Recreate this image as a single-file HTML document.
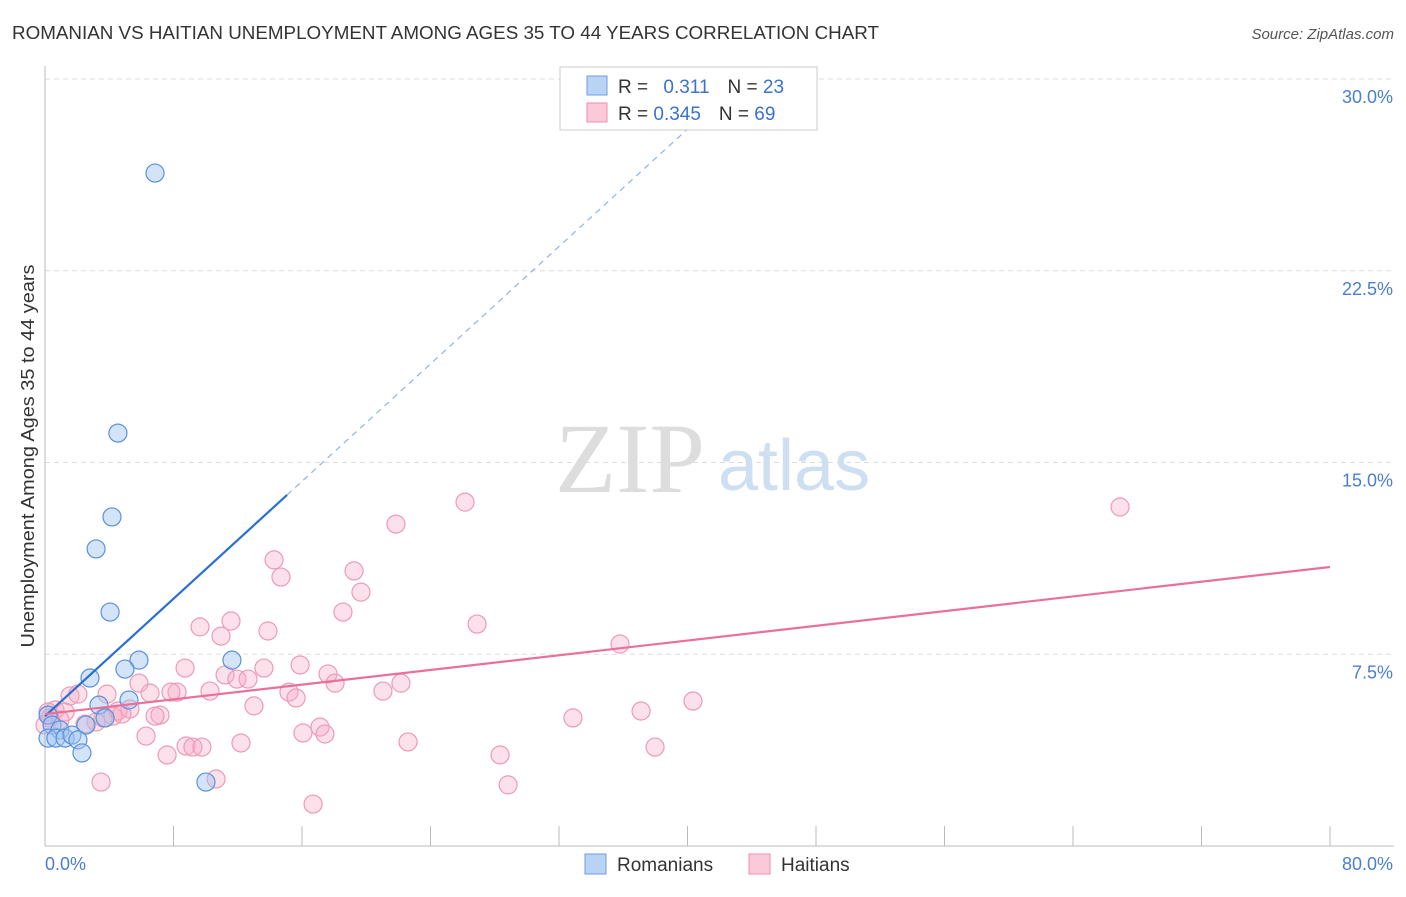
<!DOCTYPE html>
<html><head><meta charset="utf-8"><style>
body{margin:0;background:#fff;font-family:"Liberation Sans",sans-serif;}
</style></head><body>
<svg width="1406" height="892" xmlns="http://www.w3.org/2000/svg" style="font-family:'Liberation Sans',sans-serif">
<text x="12" y="39" font-size="18" fill="#333" textLength="867" lengthAdjust="spacingAndGlyphs">ROMANIAN VS HAITIAN UNEMPLOYMENT AMONG AGES 35 TO 44 YEARS CORRELATION CHART</text>
<text x="1394" y="39" font-size="15" fill="#555" font-style="italic" text-anchor="end">Source: ZipAtlas.com</text>
<g id="grid"></g>
<text x="555" y="492" font-size="100" fill="#ddd" font-family="Liberation Serif,serif">ZIP</text>
<text x="718" y="490" font-size="72" fill="#cfdff2">atlas</text>
<g id="marks"></g>
<text transform="translate(34,456) rotate(-90)" font-size="18" fill="#333" text-anchor="middle" textLength="383" lengthAdjust="spacingAndGlyphs">Unemployment Among Ages 35 to 44 years</text>
<g>
<rect x="560" y="67" width="257" height="63" fill="#fff" stroke="#ccc"/>
<rect x="587" y="76" width="20" height="19" fill="#b9d3f5" stroke="#6d9de0"/>
<rect x="587" y="103" width="20" height="19" fill="#fbc9d8" stroke="#eb8fae"/>
<text x="618" y="93" font-size="19" fill="#333">R = <tspan fill="#3a72cc" dx="10">0.311</tspan><tspan fill="#333" dx="18">N = </tspan><tspan fill="#3a72cc">23</tspan></text>
<text x="618" y="120" font-size="19" fill="#333">R = <tspan fill="#3a72cc">0.345</tspan><tspan fill="#333" dx="18">N = </tspan><tspan fill="#3a72cc">69</tspan></text>
</g>
<g>
<rect x="585" y="854" width="21" height="20" fill="#b9d3f5" stroke="#6d9de0"/>
<text x="617" y="871" font-size="19" fill="#333">Romanians</text>
<rect x="749" y="854" width="21" height="20" fill="#fbc9d8" stroke="#eb8fae"/>
<text x="781" y="871" font-size="19" fill="#333">Haitians</text>
</g>
</svg>
<script>
const xTicks=[0,80];
const yTicks=[7.5,15,22.5,30];
const romX=[6.85,4.54,4.17,3.18,4.05,5.85,4.98,11.64,2.80,5.23,3.36,0.19,3.74,0.44,0.93,2.55,0.19,0.68,1.25,1.68,2.05,2.30,10.02];
const romY=[26.32,16.15,12.87,11.62,9.15,7.27,6.92,7.27,6.57,5.71,5.51,5.12,5.01,4.73,4.54,4.73,4.22,4.22,4.22,4.34,4.15,3.64,2.50];
const haiX=[26.15,66.93,21.85,14.26,14.69,19.24,19.67,18.55,11.58,9.65,13.88,26.90,10.96,35.80,8.72,13.63,15.88,17.62,11.21,11.95,12.64,18.06,22.16,5.85,8.22,7.84,6.54,10.27,15.19,15.63,21.04,1.56,2.05,3.86,5.29,13.01,40.34,37.11,0.62,1.25,4.54,7.16,6.85,4.23,4.79,32.87,3.61,3.18,2.49,17.12,6.29,16.06,17.43,8.78,9.21,9.77,12.20,22.60,37.98,28.33,7.60,3.49,10.65,16.69,28.83,0.19,0.31,0.93,0];
const haiY=[13.45,13.26,12.59,11.19,10.52,10.76,9.93,9.15,8.80,8.57,8.41,8.68,8.21,7.90,6.96,6.96,7.08,6.73,6.69,6.53,6.53,6.37,6.37,6.37,6.02,6.02,5.98,6.06,6.02,5.79,6.06,5.87,5.94,5.94,5.36,5.48,5.67,5.28,5.32,5.24,5.28,5.12,5.08,5.08,5.16,5.01,5.01,4.85,4.77,4.65,4.30,4.42,4.38,3.91,3.87,3.87,4.03,4.07,3.87,3.56,3.56,2.50,2.62,1.64,2.39,5.24,5.01,4.93,4.73];
const romTrend=[5.08,0.574];
const haiTrend=[5.16,0.0719];
const X=v=>45+v/80*1285, Y=v=>846-v/30*767;
const NS='http://www.w3.org/2000/svg';
function mk(p,t,a){const e=document.createElementNS(NS,t);for(const k in a)e.setAttribute(k,a[k]);p.appendChild(e);return e;}
const g=document.getElementById('grid'), m=document.getElementById('marks');
yTicks.forEach(t=>{const l=mk(g,'line',{x1:45,x2:1394,y1:Y(t),y2:Y(t),stroke:'#ddd','stroke-dasharray':'5,4'});


const tx=mk(g,'text',{x:1393,y:Y(t)+24,'font-size':18,fill:'#4a7fd0','text-anchor':'end'});tx.textContent=t.toFixed(1)+'%';

});
const ax=mk(g,'line',{x1:45,x2:1394,y1:846,y2:846,stroke:'#bbb'});


const ay=mk(g,'line',{x1:45,x2:45,y1:66,y2:846,stroke:'#bbb'});


for(let i=1;i<=10;i++){const l=mk(g,'line',{x1:X(i*8),x2:X(i*8),y1:826,y2:846,stroke:'#bbb'});

}
xTicks.forEach((t,i)=>{const tx=mk(g,'text',{x:i?1393:45,y:870,'font-size':18,fill:'#4a7fd0','text-anchor':i?'end':'start'});tx.textContent=t.toFixed(1)+'%';

});
haiX.forEach((x,i)=>{const c=mk(m,'circle',{cx:X(x),cy:Y(haiY[i]),r:9,fill:'rgba(246,170,195,0.35)',stroke:'#ee9ab5','stroke-width':1.2});

});
romX.forEach((x,i)=>{const c=mk(m,'circle',{cx:X(x),cy:Y(romY[i]),r:9,fill:'rgba(160,195,240,0.45)',stroke:'#5a90dc','stroke-width':1.2});

});
const xs=15.07, xe=(30-romTrend[0])/romTrend[1];
const l1=mk(m,'line',{x1:X(0),y1:Y(romTrend[0]),x2:X(xs),y2:Y(romTrend[0]+romTrend[1]*xs),stroke:'#2a6fd6','stroke-width':2.2});


const l2=mk(m,'line',{x1:X(xs),y1:Y(romTrend[0]+romTrend[1]*xs),x2:X(xe),y2:Y(30),stroke:'#8fb3e6','stroke-width':1.2,'stroke-dasharray':'6,5'});


const l3=mk(m,'line',{x1:X(0),y1:Y(haiTrend[0]),x2:X(80),y2:Y(haiTrend[0]+haiTrend[1]*80),stroke:'#e8709a','stroke-width':2.2});


</script>
</body></html>
